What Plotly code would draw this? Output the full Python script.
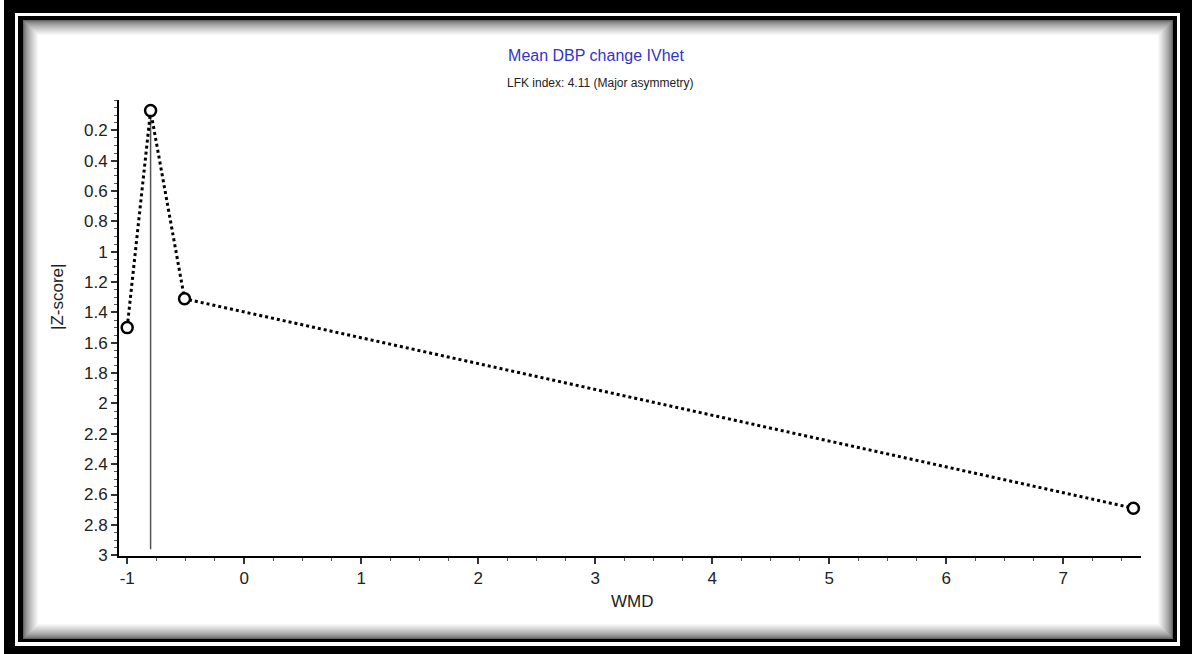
import plotly.graph_objects as go

# ---- data ----
wmd = [-1.0, -0.8, -0.51, 7.6]
zscore = [1.50, 0.07, 1.31, 2.69]
y_tickvals = [0.2, 0.4, 0.6, 0.8, 1.0, 1.2, 1.4, 1.6, 1.8, 2.0, 2.2, 2.4, 2.6, 2.8, 3.0]
y_ticktext = ["0.2", "0.4", "0.6", "0.8", "1", "1.2", "1.4", "1.6", "1.8", "2", "2.2", "2.4", "2.6", "2.8", "3"]
x_tickvals = [-1, 0, 1, 2, 3, 4, 5, 6, 7]
x_ticktext = ["-1", "0", "1", "2", "3", "4", "5", "6", "7"]
title_text = "Mean DBP change IVhet"
subtitle_text = "LFK index: 4.11 (Major asymmetry)"

W, H = 1192, 654
L, R, T, B = 119, 51, 100, 98
PW, PH = W - L - R, H - T - B


def px_x(px):
    return (px - L) / PW


def px_y(py):
    return (H - B - py) / PH


FONT = "Liberation Sans, Arial, sans-serif"

fig = go.Figure()

fig.add_trace(go.Scatter(
    x=wmd, y=zscore, mode="lines+markers",
    line=dict(color="black", width=3, dash="dot"),
    marker=dict(symbol="circle", size=11, color="white",
                line=dict(color="black", width=2.5)),
    showlegend=False, hoverinfo="x+y",
))

# vertical reference line at the study with the smallest |Z-score|
imin = zscore.index(min(zscore))
x_ref = wmd[imin]

shapes = []
# frame: white gap, inner black line, inner shadow gradient
shapes.append(dict(type="rect", xref="paper", yref="paper", layer="below",
                   x0=px_x(0), x1=px_x(4), y0=px_y(H), y1=px_y(0),
                   fillcolor="white", line=dict(width=0)))
shapes.append(dict(type="rect", xref="paper", yref="paper", layer="below",
                   x0=px_x(15), x1=px_x(1180), y0=px_y(646), y1=px_y(13),
                   fillcolor="white", line=dict(width=0)))
shapes.append(dict(type="rect", xref="paper", yref="paper", layer="below",
                   x0=px_x(18), x1=px_x(1177), y0=px_y(642), y1=px_y(16),
                   fillcolor="black", line=dict(width=0)))
steps = 16
for i in range(steps):
    g = int(100 + (255 - 100) * (i / (steps - 1)) ** 0.7)
    shapes.append(dict(type="rect", xref="paper", yref="paper", layer="below",
                       x0=px_x(23 + i), x1=px_x(1173 - i),
                       y0=px_y(639 - i), y1=px_y(20 + i),
                       fillcolor=f"rgb({g},{g},{g})", line=dict(width=0)))

shapes.append(dict(type="line", xref="x", yref="y", layer="below",
                   x0=x_ref, x1=x_ref, y0=zscore[imin], y1=2.96,
                   line=dict(color="#555555", width=1.5)))

fig.update_layout(
    width=W, height=H,
    margin=dict(l=L, r=R, t=T, b=B, pad=0),
    paper_bgcolor="black",
    plot_bgcolor="rgba(0,0,0,0)",
    shapes=shapes,
    font=dict(family=FONT, color="#222222", size=16),
    title=dict(text=title_text, xref="container", x=0.5, xanchor="center",
               yref="container", y=1 - 55 / H, yanchor="middle",
               font=dict(family=FONT, size=16, color="#3333cc")),
    annotations=[
        dict(text=subtitle_text, xref="paper", yref="paper",
             x=px_x(600), y=px_y(83), xanchor="center", yanchor="middle",
             showarrow=False, font=dict(family=FONT, size=12, color="#222222")),
        dict(text="WMD", xref="paper", yref="paper",
             x=px_x(632), y=px_y(601), xanchor="center", yanchor="middle",
             showarrow=False, font=dict(family=FONT, size=17, color="#222222")),
        dict(text="|Z-score|", xref="paper", yref="paper", textangle=-90,
             x=px_x(57), y=px_y(297), xanchor="center", yanchor="middle",
             showarrow=False, font=dict(family=FONT, size=17, color="#222222")),
    ],
    xaxis=dict(
        range=[-1.07, 7.665], showgrid=False, zeroline=False,
        showline=True, linecolor="black", linewidth=2,
        ticks="outside", ticklen=6, tickwidth=1.5, tickcolor="#333333",
        tickvals=x_tickvals, ticktext=x_ticktext,
        tickfont=dict(family=FONT, size=17, color="#222222"),
        minor=dict(dtick=0.25, tick0=0, ticks="outside", ticklen=3,
                   tickcolor="#555555", tickwidth=1, showgrid=False),
    ),
    yaxis=dict(
        range=[3.005, 0.0], showgrid=False, zeroline=False,
        showline=True, linecolor="black", linewidth=2,
        ticks="outside", ticklen=6, tickwidth=1.5, tickcolor="#333333",
        tickvals=y_tickvals, ticktext=y_ticktext,
        tickfont=dict(family=FONT, size=17, color="#222222"),
        minor=dict(dtick=0.05, tick0=0, ticks="outside", ticklen=3,
                   tickcolor="#555555", tickwidth=1, showgrid=False),
    ),
)

fig.write_html("out.html",
               config={"displayModeBar": False},
               post_script="document.body.style.margin='0px';"
                           "document.body.style.background='black';")
